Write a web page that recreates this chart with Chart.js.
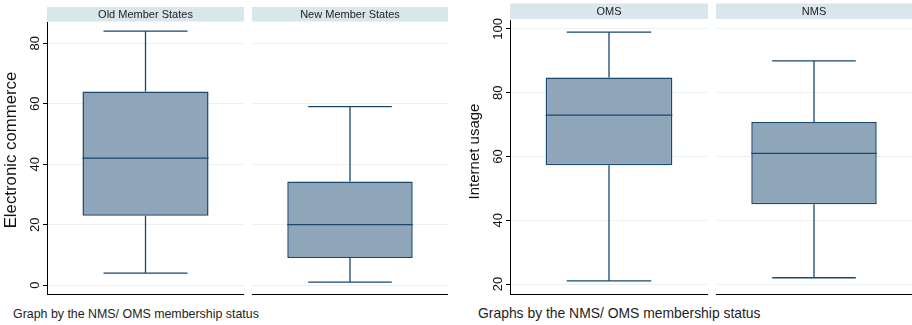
<!DOCTYPE html>
<html>
<head>
<meta charset="utf-8">
<script src="https://cdn.jsdelivr.net/npm/chart.js@4.4.1/dist/chart.umd.min.js"></script>
<style>
  body { margin: 0; background: #fff; width: 912px; height: 325px; position: relative; overflow: hidden;
         font-family: "Liberation Sans", Arial, sans-serif; }
  canvas { position: absolute; top: 0; }
  .note { position: absolute; color: #1e1e1e; white-space: nowrap; line-height: 1; }
</style>
</head>
<body>
<canvas id="ecom1" width="244" height="300" style="left:0px"></canvas>
<canvas id="ecom2" width="196" height="300" style="left:252px"></canvas>
<canvas id="net1" width="248" height="300" style="left:460px"></canvas>
<canvas id="net2" width="196" height="300" style="left:716px"></canvas>
<div class="note" style="left:13px; top:308px; font-size:12.4px">Graph by the NMS/ OMS membership status</div>
<div class="note" style="left:478px; top:307px; font-size:13.9px">Graphs by the NMS/ OMS membership status</div>

<script>
// left graph: electronic commerce
var ecomGroups = ['Old Member States', 'New Member States'];
var ecomLow = [4, 1];
var ecomQ1 = [23, 9];
var ecomMedian = [42, 20];
var ecomQ3 = [64, 34.3];
var ecomHigh = [84, 59];
var ecomTicks = [0, 20, 40, 60, 80];

// right graph: internet usage
var netGroups = ['OMS', 'NMS'];
var netLow = [21, 22];
var netQ1 = [57.3, 45];
var netMedian = [73, 61];
var netQ3 = [84.8, 70.8];
var netHigh = [99, 90];
var netTicks = [20, 40, 60, 80, 100];

var FILL = '#8fa5ba';
var LINE = '#1a476f';
var STRIP = '#d9e6eb';
var GRID = '#eaf2f3';
var FONT = '"Liberation Sans", Arial, sans-serif';

function makeFacet(id, label, low, q1, med, q3, high, ax) {
  // draws median, whiskers, strip header, rotated tick labels and axis title
  var parts = {
    id: 'parts_' + id,
    afterDatasetsDraw: function(chart) {
      var ctx = chart.ctx, y = chart.scales.y;
      var bar = chart.getDatasetMeta(0).data[0];
      var cx = bar.x, half = bar.width / 2, cap = half * 2 / 3;
      ctx.save();
      ctx.strokeStyle = LINE;
      ctx.lineWidth = 1.3;
      ctx.beginPath();
      ctx.moveTo(cx - half, y.getPixelForValue(med));
      ctx.lineTo(cx + half, y.getPixelForValue(med));
      ctx.moveTo(cx, y.getPixelForValue(q3));
      ctx.lineTo(cx, y.getPixelForValue(high));
      ctx.moveTo(cx - cap, y.getPixelForValue(high));
      ctx.lineTo(cx + cap, y.getPixelForValue(high));
      ctx.moveTo(cx, y.getPixelForValue(q1));
      ctx.lineTo(cx, y.getPixelForValue(low));
      ctx.moveTo(cx - cap, y.getPixelForValue(low));
      ctx.lineTo(cx + cap, y.getPixelForValue(low));
      ctx.stroke();
      ctx.restore();
    },
    afterDraw: function(chart) {
      var ctx = chart.ctx, a = chart.chartArea, y = chart.scales.y;
      ctx.save();
      ctx.fillStyle = STRIP;
      ctx.fillRect(a.left, ax.hTop, a.right - a.left, ax.hBot - ax.hTop);
      ctx.fillStyle = '#222';
      ctx.font = '11px ' + FONT;
      ctx.textAlign = 'center';
      ctx.textBaseline = 'middle';
      ctx.fillText(label, (a.left + a.right) / 2, (ax.hTop + ax.hBot) / 2 + 0.5);
      if (ax.showAxis) {
        ctx.font = '13px ' + FONT;
        ctx.fillStyle = '#111';
        ax.ticks.forEach(function(v) {
          ctx.save();
          ctx.translate(a.left - 12, y.getPixelForValue(v));
          ctx.rotate(-Math.PI / 2);
          ctx.fillText(String(v), 0, 0);
          ctx.restore();
        });
        // axis title
        ctx.save();
        ctx.font = ax.titleSize + 'px ' + FONT;
        ctx.translate(ax.titleX, ax.titleY);
        ctx.rotate(-Math.PI / 2);
        ctx.fillText(ax.title, 0, 0);
        ctx.restore();
      }
      ctx.restore();
    }
  };

  return new Chart(document.getElementById(id), {
    type: 'bar',
    data: {
      labels: [label],
      datasets: [{
        data: [[q1, q3]],
        backgroundColor: FILL,
        borderColor: LINE,
        borderWidth: 1.5,
        borderSkipped: false,
        barPercentage: 0.64,
        categoryPercentage: 1
      }]
    },
    options: {
      responsive: false,
      animation: false,
      layout: { padding: { top: ax.top, bottom: 300 - ax.bottom, left: 0, right: 0 } },
      plugins: { legend: { display: false }, tooltip: { enabled: false } },
      scales: {
        x: {
          ticks: { display: false },
          grid: { display: false },
          border: { display: true, color: '#000', width: 1 },
          afterFit: function(s) { s.height = 0; }
        },
        y: {
          min: ax.min,
          max: ax.max,
          afterBuildTicks: function(s) { s.ticks = ax.ticks.map(function(v) { return { value: v }; }); },
          ticks: { display: false },
          grid: { color: GRID, lineWidth: 1, drawTicks: ax.showAxis, tickLength: 4, tickColor: '#000' },
          border: { display: ax.showAxis, color: '#000', width: 1 },
          afterFit: function(s) { s.width = ax.yWidth; }
        }
      }
    },
    plugins: [parts]
  });
}

var ecomAxis = { min: -2.9, max: 87.0, ticks: ecomTicks, top: 22, bottom: 294, hTop: 7, hBot: 21.5,
                 title: 'Electronic commerce', titleSize: 16.8, titleX: 11, titleY: 150 };
var netAxis = { min: 16.9, max: 102.8, ticks: netTicks, top: 20, bottom: 294, hTop: 3.5, hBot: 19,
                title: 'Internet usage', titleSize: 15, titleX: 14.5, titleY: 151.5 };

makeFacet('ecom1', ecomGroups[0], ecomLow[0], ecomQ1[0], ecomMedian[0], ecomQ3[0], ecomHigh[0],
  Object.assign({}, ecomAxis, { showAxis: true, yWidth: 47 }));
makeFacet('ecom2', ecomGroups[1], ecomLow[1], ecomQ1[1], ecomMedian[1], ecomQ3[1], ecomHigh[1],
  Object.assign({}, ecomAxis, { showAxis: false, yWidth: 0 }));
makeFacet('net1', netGroups[0], netLow[0], netQ1[0], netMedian[0], netQ3[0], netHigh[0],
  Object.assign({}, netAxis, { showAxis: true, yWidth: 50 }));
makeFacet('net2', netGroups[1], netLow[1], netQ1[1], netMedian[1], netQ3[1], netHigh[1],
  Object.assign({}, netAxis, { showAxis: false, yWidth: 0 }));
</script>
</body>
</html>
